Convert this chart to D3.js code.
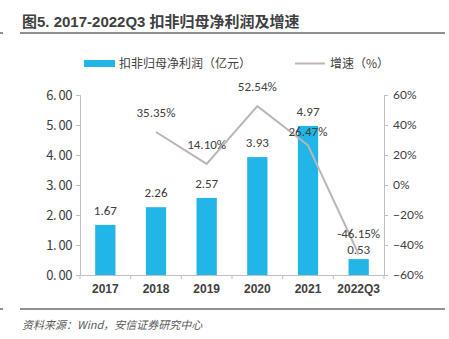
<!DOCTYPE html>
<html><head><meta charset="utf-8">
<script src="https://cdn.jsdelivr.net/npm/d3@7"></script>
<style>body{margin:0;background:#fff}</style>
</head><body>
<svg id="c" width="449" height="339"></svg>
<script>
const categories = ["2017","2018","2019","2020","2021","2022Q3"];
const profit = [1.67, 2.26, 2.57, 3.93, 4.97, 0.53];
const growth = [null, 35.35, 14.10, 52.54, 26.47, -46.15];
const leftTicks = [0,1,2,3,4,5,6];
const rightTicks = [-60,-40,-20,0,20,40,60];
const title = "图5. 2017-2022Q3 扣非归母净利润及增速";
const legendBar = "扣非归母净利润（亿元）";
const legendLine = "增速（%）";
const source = "资料来源：Wind，安信证券研究中心";

const svg = d3.select("#c");
const txt = "#404040";
const L = 80, R = 384, T = 95, B = 275;
const x = d3.scaleBand().domain(categories).range([L, R]).paddingInner(0.6).paddingOuter(0.3);
const xb = d3.scaleBand().domain(categories).range([L, R]);
const yL = d3.scaleLinear().domain([0,6]).range([B, T]);
const yR = d3.scaleLinear().domain([-60,60]).range([B, T]);

// title
svg.append("text").attr("x",22).attr("y",27).attr("fill",txt)
  .attr("font-family","Liberation Sans, Arial, 'Noto Sans CJK SC'").attr("font-weight","bold")
  .attr("font-size",15).text(title);
svg.append("line").attr("x1",20).attr("x2",445).attr("y1",33).attr("y2",33).attr("stroke","#222").attr("stroke-width",1);
svg.append("line").attr("x1",0).attr("x2",3).attr("y1",33).attr("y2",33).attr("stroke","#222");

// legend
svg.append("rect").attr("x",84).attr("y",60).attr("width",31).attr("height",7).attr("fill","#22B5E8");
svg.append("text").attr("x",119).attr("y",68).attr("font-size",12).attr("fill",txt)
  .attr("font-family","'Noto Sans CJK SC'").text(legendBar);
svg.append("line").attr("x1",295).attr("x2",325).attr("y1",63.5).attr("y2",63.5).attr("stroke","#BDB5B5").attr("stroke-width",2);
svg.append("text").attr("x",330).attr("y",68).attr("font-size",12).attr("fill",txt)
  .attr("font-family","'Noto Sans CJK SC'").text(legendLine);

// axes
const axL = svg.append("g").attr("transform",`translate(${L},0)`)
  .call(d3.axisLeft(yL).tickValues(leftTicks).tickFormat(d=>d3.format(".2f")(d).replace(".",". ")).tickSize(4).tickPadding(4));
axL.select(".domain").attr("stroke","#bfbfbf");
axL.selectAll(".tick line").attr("stroke","#bfbfbf");
axL.selectAll("text").attr("font-family","'Noto Sans CJK SC'").attr("font-size",13).attr("fill",txt).attr("letter-spacing",-0.5);

const axR = svg.append("g").attr("transform",`translate(${R},0)`)
  .call(d3.axisRight(yR).tickValues(rightTicks).tickFormat(d=>(d<0?"−":"")+Math.abs(d)+"%").tickSize(4).tickPadding(5));
axR.select(".domain").attr("stroke","#bfbfbf");
axR.selectAll(".tick line").attr("stroke","#bfbfbf");
axR.selectAll("text").attr("font-family","Lato, 'Liberation Sans'").attr("font-size",12).attr("fill",txt);

const axB = svg.append("g").attr("transform",`translate(0,${B})`)
  .call(d3.axisBottom(x).tickSize(0).tickPadding(9));
axB.select(".domain").attr("d",`M${L},0.5H${R}`).attr("stroke","#bfbfbf");
axB.selectAll("text").attr("font-family","Liberation Sans, Arial").attr("font-weight","bold").attr("font-size",12).attr("fill",txt);
categories.slice(1).forEach(c=>{
  svg.append("line").attr("x1",xb(c)).attr("x2",xb(c)).attr("y1",B).attr("y2",B+4).attr("stroke","#bfbfbf");
});
svg.append("line").attr("x1",L).attr("x2",L).attr("y1",B).attr("y2",B+4).attr("stroke","#bfbfbf");
svg.append("line").attr("x1",R).attr("x2",R).attr("y1",B).attr("y2",B+4).attr("stroke","#bfbfbf");

// bars
svg.selectAll(".bar").data(profit).enter().append("rect")
  .attr("x",(d,i)=>x(categories[i])).attr("width",x.bandwidth())
  .attr("y",d=>yL(d)).attr("height",d=>B-yL(d)).attr("fill","#22B5E8");
svg.selectAll(".bl").data(profit).enter().append("text")
  .attr("x",(d,i)=>x(categories[i])+x.bandwidth()/2).attr("y",(d,i)=>yL(d)-(i===5?5:10))
  .attr("text-anchor","middle").attr("font-family","Carlito, 'Open Sans', 'Liberation Sans'").attr("font-size",13).attr("fill",txt)
  .text(d=>d.toFixed(2));

// line
const pts = growth.map((g,i)=>({g, c:categories[i]})).filter(p=>p.g!==null);
const line = d3.line().x(p=>xb(p.c)+xb.bandwidth()/2).y(p=>yR(p.g));
svg.append("path").datum(pts).attr("d",line).attr("fill","none").attr("stroke","#BDB5B5").attr("stroke-width",2);
svg.selectAll(".gl").data(pts).enter().append("text")
  .attr("x",p=>xb(p.c)+xb.bandwidth()/2).attr("y",p=>yR(p.g)-(p.g===26.47?9:(p.g<0?16:15)))
  .attr("text-anchor","middle").attr("font-family","Carlito, 'Open Sans', 'Liberation Sans'").attr("font-size",13).attr("fill",txt)
  .text(p=>p.g.toFixed(2)+"%");

// footer
svg.append("line").attr("x1",20).attr("x2",445).attr("y1",309).attr("y2",309).attr("stroke","#222");
svg.append("line").attr("x1",0).attr("x2",3).attr("y1",309).attr("y2",309).attr("stroke","#222");
svg.append("text").attr("x",22).attr("y",329).attr("font-size",11).attr("font-style","italic").attr("fill","#595959")
  .attr("font-family","'Noto Sans CJK SC'").text(source);
</script>
</body></html>
